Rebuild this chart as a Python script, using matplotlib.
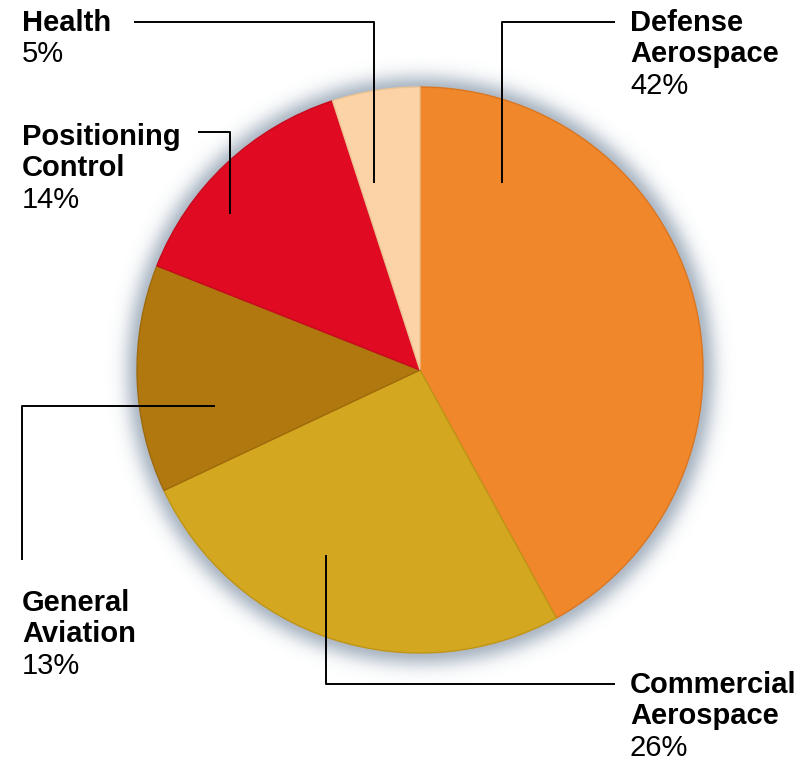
import numpy as np
import matplotlib.pyplot as plt

plt.rcParams['font.family'] = ['Liberation Sans', 'DejaVu Sans']

# market share by segment, clockwise from 12 o'clock
segments = ['Defense\nAerospace', 'Commercial\nAerospace', 'General\nAviation',
            'Positioning\nControl', 'Health']
shares = [42, 26, 13, 14, 5]
colors = ['#F0872B', '#D3A71F', '#B0780F', '#E00B23', '#FBD3A6']
edge_colors = ['#DB7620', '#C09516', '#9E6A0B', '#C8091D', '#EDC391']

W, H = 809, 762
fig = plt.figure(figsize=(W / 100, H / 100), dpi=100)
ax = fig.add_axes([0, 0, 1, 1])


def py(y):
    # pixel row (from top) -> data y
    return H - y


cx, cy, R = 420, py(370), 283

# soft bluish shadow around the disc
yy, xx = np.mgrid[0:H, 0:W]
dist = np.hypot(xx - cx, (H - yy) - cy)
glow = np.exp(-np.clip(dist - R + 2, 0, None) ** 2 / (2 * 11.0 ** 2))
glow[dist > R + 60] = 0
shadow = np.zeros((H, W, 4))
shadow[..., 0] = 0.50
shadow[..., 1] = 0.57
shadow[..., 2] = 0.65
shadow[..., 3] = 0.65 * glow
ax.imshow(shadow, extent=(0, W, 0, H), origin='upper', zorder=0, interpolation='bilinear')

wedges, _ = ax.pie(shares, colors=colors, startangle=90, counterclock=False,
                   center=(cx, cy), radius=R, frame=True,
                   wedgeprops=dict(linewidth=1.0))
for w, ec in zip(wedges, edge_colors):
    w.set_edgecolor(ec)
    w.set_zorder(2)
ax.set_xlim(0, W)
ax.set_ylim(0, H)
ax.set_aspect('equal')
ax.axis('off')

# leader lines (pixel coordinates)
leaders = [
    [(615, 22), (502, 22), (502, 183)],      # Defense
    [(615, 684), (326, 684), (326, 555)],    # Commercial
    [(22, 560), (22, 406), (215, 406)],      # General Aviation
    [(198, 132), (230, 132), (230, 214)],    # Positioning
    [(134, 22), (374, 22), (374, 183)],      # Health
]
for pts in leaders:
    xs = [p[0] for p in pts]
    ys = [py(p[1]) for p in pts]
    ax.plot(xs, ys, color='black', lw=1.4, zorder=3, solid_capstyle='butt')

label_pos = [(630, 9), (630, 671), (22, 589), (22, 123), (22, 9)]
step = 31.5
for name, share, (lx, ly) in zip(segments, shares, label_pos):
    lines = name.split('\n')
    for i, line in enumerate(lines):
        ax.text(lx, py(ly + i * step), line, fontsize=21, fontweight='bold',
                va='top', ha='left', zorder=4)
    ax.text(lx, py(ly + len(lines) * step), f'{share}%', fontsize=21,
            va='top', ha='left', zorder=4)

fig.savefig('out.png', dpi=100)
